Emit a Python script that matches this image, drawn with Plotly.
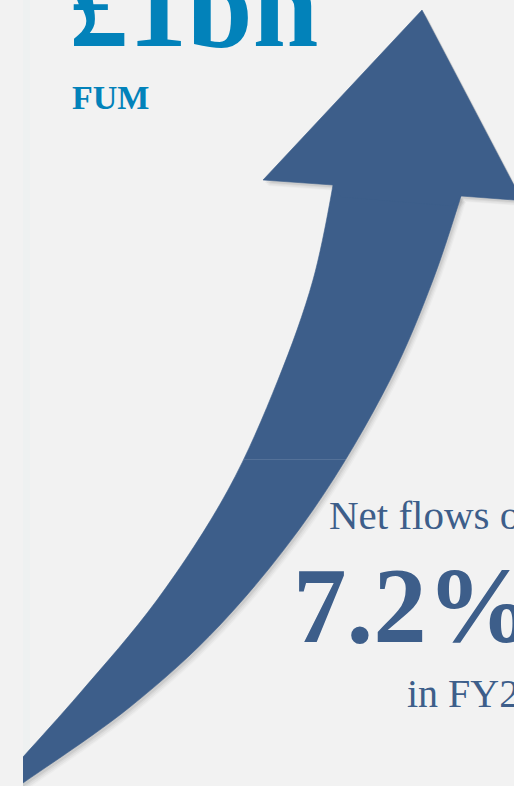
import plotly.graph_objects as go

# Headline figures
fum_value = "£1bn"
fum_label = "FUM"
flows_intro = "Net flows of"
flows_value = "7.2%"
flows_period = "in FY20"

# Arrow outline (canvas units, y grows downwards); the tail runs on past the panel edge
# the head's last two points tuck into the shaft so the two fills overlap without a gap
head_x = [333, 263, 422, 522, 461, 452, 341]
head_y = [185, 180, 10, 200.6, 196, 206, 197]
left_edge_x = [333, 313, 278, 228, 157, 80, 23, -12]
left_edge_y = [185, 280, 380, 490, 600, 693, 757, 796]
right_edge_x = [461, 433, 390, 313, 220, 130, 23, -12]
right_edge_y = [196, 280, 380, 510, 625, 707, 783, 807]
seam_y = 459.5

W, H = 514, 786
BG = "#f2f2f2"
ARROW = "#3d5e8a"
BRIGHT = "#0282ba"
PANEL_EDGE = 23

fig = go.Figure()


def add_arrow(dx, dy, color, edge=0):
    # curved shaft: down the left edge, back up the right edge
    sx = left_edge_x + right_edge_x[::-1]
    sy = left_edge_y + right_edge_y[::-1]
    fig.add_trace(go.Scatter(
        x=[v + dx for v in sx], y=[v + dy for v in sy],
        mode="lines", fill="toself", fillcolor=color,
        line=dict(width=edge, color=color, shape="spline", smoothing=1.0),
        hoverinfo="skip", showlegend=False))
    # straight-sided head
    hx = head_x + [head_x[0]]
    hy = head_y + [head_y[0]]
    fig.add_trace(go.Scatter(
        x=[v + dx for v in hx], y=[v + dy for v in hy],
        mode="lines", fill="toself", fillcolor=color,
        line=dict(width=edge, color=color),
        hoverinfo="skip", showlegend=False))


# soft drop shadow built from a few offset, translucent copies
for dx, dy, a in [(5, 6, 0.025), (4, 5, 0.035), (3, 3.5, 0.045), (2, 2.5, 0.06)]:
    add_arrow(dx, dy, f"rgba(0,0,0,{a})")

add_arrow(0, 0, ARROW, edge=0.6)

# faint seam across the shaft
fig.add_trace(go.Scatter(
    x=[244, 346], y=[seam_y, seam_y],
    mode="lines", line=dict(width=1, color="rgba(255,255,255,0.12)"),
    hoverinfo="skip", showlegend=False))

# panel edge on the left
fig.add_shape(type="rect", xref="x", yref="y", x0=-20, x1=PANEL_EDGE, y0=-5, y1=H + 30,
              fillcolor=BG, line=dict(width=0), layer="above")
fig.add_shape(type="rect", xref="x", yref="y", x0=PANEL_EDGE, x1=PANEL_EDGE + 7, y0=-5, y1=H + 5,
              fillcolor="rgba(232,240,240,0.35)", line=dict(width=0), layer="below")

serif = "Liberation Serif"
ann = [
    dict(text=f"<b>{fum_value}</b>", x=68, y=6, size=118, color=BRIGHT),
    dict(text=f"<b>{fum_label}</b>", x=71, y=97.5, size=34, color=BRIGHT),
    dict(text=flows_intro, x=328, y=515, size=41, color=ARROW),
    dict(text=f"<b>{flows_value}</b>", x=292, y=606, size=107, color=ARROW),
    dict(text=flows_period, x=406, y=693, size=40, color=ARROW),
]
for a in ann:
    fig.add_annotation(text=a["text"], x=a["x"], y=a["y"], xref="x", yref="y",
                       xanchor="left", yanchor="middle", showarrow=False,
                       borderpad=0, font=dict(family=serif, size=a["size"], color=a["color"]))

fig.update_xaxes(range=[0, W], visible=False, fixedrange=True)
fig.update_yaxes(range=[H, 0], visible=False, fixedrange=True)
fig.update_layout(width=W, height=H, margin=dict(l=0, r=0, t=0, b=0),
                  paper_bgcolor=BG, plot_bgcolor=BG, showlegend=False)

fig.write_html("out.html", config={"displayModeBar": False})
